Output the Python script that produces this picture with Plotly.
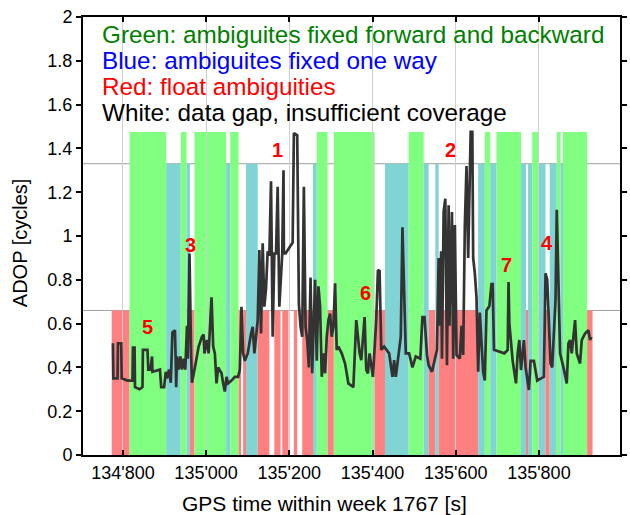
import plotly.graph_objects as go

# ---------------- data ----------------
# ADOP time series (GPS seconds of week, cycles)
gps_time = [134776, 134777, 134787, 134788, 134796, 134797, 134811, 134823, 134824, 134828,
            134829, 134840, 134847, 134848, 134859, 134861, 134866, 134870, 134871, 134889,
            134892, 134899, 134903, 134906, 134911, 134915, 134919, 134925, 134927, 134928,
            134930, 134934, 134938, 134942, 134946, 134950, 134954, 134956, 134960, 134962,
            134964, 134966, 134970, 134974, 134982, 134990, 134994, 134996, 135002, 135006,
            135013, 135017, 135021, 135025, 135029, 135037, 135041, 135045, 135049, 135053,
            135061, 135069, 135077, 135081, 135085, 135089, 135093, 135100, 135108, 135112,
            135116, 135124, 135128, 135132, 135136, 135140, 135144, 135148, 135152, 135156,
            135160, 135164, 135168, 135172, 135176, 135183, 135186, 135187, 135191, 135200,
            135208, 135211, 135219, 135223, 135227, 135231, 135235, 135239, 135243, 135247,
            135251, 135255, 135259, 135262, 135266, 135270, 135274, 135278, 135282, 135286,
            135290, 135294, 135298, 135302, 135306, 135310, 135314, 135318, 135326, 135334,
            135338, 135342, 135354, 135357, 135361, 135365, 135369, 135373, 135381, 135385,
            135389, 135393, 135397, 135401, 135409, 135413, 135417, 135421, 135428, 135440,
            135448, 135452, 135456, 135464, 135468, 135472, 135476, 135480, 135488, 135496,
            135504, 135515, 135520, 135525, 135531, 135535, 135543, 135555, 135559, 135561,
            135565, 135567, 135571, 135575, 135579, 135583, 135585, 135591, 135594, 135598,
            135602, 135610, 135614, 135618, 135622, 135626, 135630, 135634, 135636, 135640,
            135642, 135646, 135650, 135654, 135658, 135666, 135670, 135674, 135681, 135686,
            135689, 135692, 135717, 135725, 135727, 135729, 135737, 135745, 135749, 135753,
            135757, 135764, 135768, 135776, 135780, 135788, 135792, 135796, 135812, 135816,
            135820, 135824, 135828, 135832, 135836, 135840, 135843, 135847, 135851, 135859,
            135867, 135871, 135875, 135879, 135887, 135891, 135899, 135903, 135911, 135919,
            135923, 135926]
adop = [0.51, 0.35, 0.35, 0.51, 0.51, 0.35, 0.34, 0.34, 0.49, 0.49,
        0.31, 0.30, 0.31, 0.48, 0.48, 0.39, 0.39, 0.45, 0.38, 0.39,
        0.31, 0.31, 0.38, 0.35, 0.39, 0.33, 0.56, 0.57, 0.42, 0.31,
        0.45, 0.39, 0.45, 0.39, 0.44, 0.39, 0.59, 0.44, 0.92, 0.60,
        0.45, 0.33, 0.38, 0.41, 0.495, 0.54, 0.55, 0.464, 0.525, 0.464,
        0.72, 0.495, 0.464, 0.327, 0.40, 0.373, 0.327, 0.29, 0.357, 0.327,
        0.34, 0.357, 0.357, 0.39, 0.677, 0.464, 0.43, 0.464, 0.555, 0.585,
        0.464, 0.616, 0.936, 0.555, 0.967, 0.677, 0.76, 0.93, 0.91, 1.25,
        0.54, 0.92, 0.92, 1.225, 0.677, 0.92, 1.30, 0.92, 0.92, 0.95,
        0.97, 1.47, 1.46, 0.69, 0.586, 0.54, 1.225, 0.586, 0.525, 0.40,
        0.81, 0.373, 0.677, 0.80, 0.43, 0.77, 0.677, 0.357, 0.464, 0.373,
        0.54, 0.616, 0.646, 0.54, 0.586, 0.784, 0.48, 0.495, 0.464, 0.418,
        0.373, 0.327, 0.31, 0.433, 0.616, 0.54, 0.464, 0.433, 0.63, 0.388,
        0.373, 0.464, 0.40, 0.357, 0.616, 0.845, 0.84, 0.48, 0.495, 0.464,
        0.357, 0.433, 0.357, 0.495, 0.54, 1.04, 0.76, 0.464, 0.464, 0.40,
        0.45, 0.44, 0.63, 0.63, 0.456, 0.41, 0.38, 0.48, 0.90, 0.59,
        0.93, 0.44, 1.11, 1.17, 0.41, 1.14, 0.59, 1.11, 0.44, 1.05,
        0.457, 0.44, 0.59, 0.457, 1.05, 1.32, 0.90, 1.37, 1.476, 1.476,
        0.90, 0.83, 0.72, 0.38, 0.65, 0.38, 0.34, 0.66, 0.68, 0.78,
        0.78, 0.48, 0.464, 0.48, 0.79, 0.60, 0.43, 0.327, 0.464, 0.525,
        0.388, 0.525, 0.40, 0.297, 0.43, 0.43, 0.373, 0.34, 0.357, 0.83,
        0.80, 0.616, 0.418, 0.40, 0.555, 0.708, 1.12, 0.845, 0.464, 0.40,
        0.327, 0.51, 0.525, 0.464, 0.616, 0.464, 0.418, 0.525, 0.555, 0.57,
        0.525, 0.54]

# ambiguity-status intervals: start, end, state (G fixed both ways, B fixed one way, R float)
seg_start = [134773, 134816, 134904, 134939, 134953, 134961, 134972, 135048, 135058, 135078,
             135089, 135096, 135124, 135164, 135183, 135211, 135231, 135257, 135266, 135292,
             135307, 135405, 135430, 135487, 135523, 135535, 135551, 135559, 135654, 135670,
             135683, 135698, 135757, 135769, 135774, 135784, 135798, 135816, 135826, 135843,
             135852, 135858, 135916]
seg_end = [134816, 134904, 134939, 134953, 134961, 134972, 135048, 135058, 135078, 135084,
           135096, 135124, 135152, 135179, 135198, 135219, 135257, 135266, 135292, 135307,
           135405, 135430, 135487, 135523, 135535, 135551, 135559, 135654, 135670, 135683,
           135698, 135757, 135769, 135774, 135784, 135798, 135816, 135826, 135843, 135852,
           135858, 135916, 135929]
seg_state = ["R", "G", "B", "G", "B", "R", "G", "B", "G", "R",
             "R", "B", "R", "R", "R", "R", "R", "B", "G", "R",
             "G", "R", "B", "G", "B", "R", "B", "R", "B", "G",
             "B", "G", "B", "R", "B", "G", "B", "R", "B", "G",
             "B", "G", "R"]

state_level = {"G": 1.475, "B": 1.33, "R": 0.66}
threshold_lines = [1.33, 0.66]

x_ticks = [134800, 135000, 135200, 135400, 135600, 135800]
x_ticktext = ["134'800", "135'000", "135'200", "135'400", "135'600", "135'800"]

legend_lines = ["Green: ambiguites fixed forward and backward",
                "Blue: ambiguites fixed one way",
                "Red: float ambiguities",
                "White: data gap, insufficient coverage"]

event_labels = ["1", "2", "3", "4", "5", "6", "7"]
event_x = [135172, 135587, 134962, 135820, 134859, 135383, 135721]
event_y = [1.393, 1.393, 0.959, 0.967, 0.586, 0.74, 0.868]

# ---------------- styling ----------------
FONT = "Arial, Liberation Sans, sans-serif"
state_color = {"G": "#80ff80", "B": "#80d4d4", "R": "#ff8080"}
legend_colors = ["#008000", "#0000ff", "#ff0000", "#000000"]

fig = go.Figure()

shapes = []
for s, e, st in zip(seg_start, seg_end, seg_state):
    shapes.append(dict(type="rect", xref="x", yref="y", x0=s, x1=e, y0=0, y1=state_level[st],
                       fillcolor=state_color[st], line=dict(width=0), layer="below"))
for lvl in threshold_lines:
    shapes.append(dict(type="line", xref="paper", yref="y", x0=0, x1=1, y0=lvl, y1=lvl,
                       line=dict(color="#a0a0a0", width=1), layer="between"))

fig.add_trace(go.Scatter(x=gps_time, y=adop, mode="lines",
                         line=dict(color="#333333", width=2.7), showlegend=False,
                         hoverinfo="skip"))

annotations = []
legend_y = [0.961, 0.9, 0.8405, 0.781]
for txt, col, yy in zip(legend_lines, legend_colors, legend_y):
    annotations.append(dict(text=txt, xref="paper", yref="paper", x=0.031, y=yy,
                            xanchor="left", yanchor="middle", showarrow=False,
                            font=dict(family=FONT, size=24.3, color=col)))
for lab, ex, ey in zip(event_labels, event_x, event_y):
    annotations.append(dict(text="<b>" + lab + "</b>", xref="x", yref="y", x=ex, y=ey,
                            showarrow=False, font=dict(family=FONT, size=20, color="#ff0000")))
annotations.append(dict(text="GPS time within week 1767 [s]", xref="paper", yref="paper",
                        x=0.45, y=-0.11, xanchor="center", yanchor="middle", showarrow=False,
                        font=dict(family=FONT, size=21, color="#000000")))
annotations.append(dict(text="ADOP [cycles]", xref="paper", yref="paper",
                        x=-0.117, y=0.484, xanchor="center", yanchor="middle", showarrow=False,
                        textangle=-90, font=dict(family=FONT, size=20, color="#000000")))

fig.update_layout(
    width=630, height=515,
    margin=dict(l=83, r=3, t=17, b=60),
    paper_bgcolor="white", plot_bgcolor="white",
    font=dict(family=FONT, size=18, color="#000000"),
    shapes=shapes, annotations=annotations, showlegend=False,
    xaxis=dict(range=[134704, 135995], tickvals=x_ticks, ticktext=x_ticktext,
               ticks="inside", ticklen=5, tickwidth=2, tickcolor="#000000",
               showline=True, linecolor="#000000", linewidth=2, mirror="ticks",
               showgrid=True, gridcolor="#cfcfcf", gridwidth=1, zeroline=False,
               tickfont=dict(family=FONT, size=18)),
    yaxis=dict(range=[0, 2], tickvals=[0, 0.2, 0.4, 0.6, 0.8, 1, 1.2, 1.4, 1.6, 1.8, 2],
               ticktext=["0", "0.2", "0.4", "0.6", "0.8", "1", "1.2", "1.4", "1.6", "1.8", "2"],
               ticks="outside", ticklen=5, tickwidth=2, tickcolor="#000000",
               showline=True, linecolor="#000000", linewidth=2, mirror="ticks",
               showgrid=False, zeroline=False, tickfont=dict(family=FONT, size=18)),
)

fig.write_html("out.html")
